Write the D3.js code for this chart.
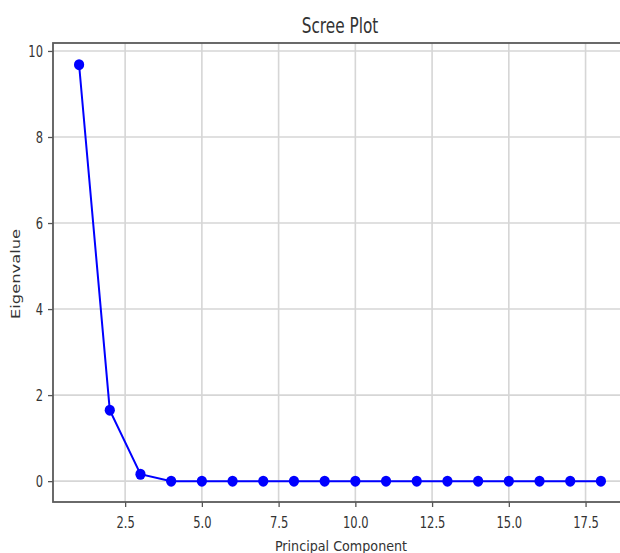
<!DOCTYPE html>
<html><head><meta charset="utf-8">
<script src="https://cdn.jsdelivr.net/npm/d3@7"></script>
<style>body{margin:0;background:#fff}svg{display:block}text{font-family:"DejaVu Sans",sans-serif;fill:#333}</style>
</head><body>
<script>
const components = [1,2,3,4,5,6,7,8,9,10,11,12,13,14,15,16,17,18];
const eigenvalues = [9.68,1.65,0.16,0,0,0,0,0,0,0,0,0,0,0,0,0,0,0];
const xTicks = [2.5,5.0,7.5,10.0,12.5,15.0,17.5];
const yTicks = [0,2,4,6,8,10];
const title = "Scree Plot", xLabel = "Principal Component", yLabel = "Eigenvalue";

const W=620,H=553, L=53, T=43, R=627, B=502;
const svg=d3.select("body").append("svg").attr("width",W).attr("height",H);
const x=d3.scaleLinear().domain([0.15,18.85]).range([L,R]);
const y=d3.scaleLinear().domain([-0.485,10.185]).range([B,T]);

const g=svg.append("g");
g.selectAll(".gx").data(xTicks).join("line").attr("x1",d=>x(d)).attr("x2",d=>x(d)).attr("y1",T).attr("y2",B).attr("stroke","#d6d6d6").attr("stroke-width",1.6);
g.selectAll(".gy").data(yTicks).join("line").attr("y1",d=>y(d)).attr("y2",d=>y(d)).attr("x1",L).attr("x2",R).attr("stroke","#d6d6d6").attr("stroke-width",1.6);

const xa=svg.append("g").attr("transform",`translate(0,${B})`).call(d3.axisBottom(x).tickValues(xTicks).tickFormat(d3.format(".1f")).tickSize(5));
const ya=svg.append("g").attr("transform",`translate(${L},0)`).call(d3.axisLeft(y).tickValues(yTicks).tickFormat(d3.format("d")).tickSize(5));
[xa,ya].forEach(a=>{a.select(".domain").remove();a.selectAll("line").attr("stroke","#555").attr("stroke-width",1.3);a.selectAll("text").attr("font-size",11.5).attr("fill","#333").style("font-family","DejaVu Sans");});
xa.selectAll("text").attr("y",0).attr("dy","0.36em").attr("transform","translate(0,20.5) scale(1,1.35)");
ya.selectAll("text").attr("x",0).attr("dy","0.36em").attr("transform","translate(-10,0) scale(1,1.35)");

svg.append("rect").attr("x",L).attr("y",T).attr("width",R-L).attr("height",B-T).attr("fill","none").attr("stroke","#5a5a5a").attr("stroke-width",1.8);

const line=d3.line().x((d,i)=>x(components[i])).y(d=>y(d));
svg.append("path").datum(eigenvalues).attr("d",line).attr("fill","none").attr("stroke","#0000ff").attr("stroke-width",2);
svg.selectAll(".pt").data(eigenvalues).join("ellipse").attr("cx",(d,i)=>x(components[i])).attr("cy",d=>y(d)).attr("rx",5.1).attr("ry",5.5).attr("fill","#0000ff");

svg.append("text").attr("transform","translate(340,33) scale(1,1.38)").attr("text-anchor","middle").attr("font-size",15.3).text(title);
svg.append("text").attr("transform","translate(341,550.5) scale(1,1.15)").attr("text-anchor","middle").attr("font-size",12.75).text(xLabel);
svg.append("text").attr("transform",`translate(19.5,274) rotate(-90) scale(1.28,1)`).attr("text-anchor","middle").attr("font-size",12.75).text(yLabel);
</script>
</body></html>
